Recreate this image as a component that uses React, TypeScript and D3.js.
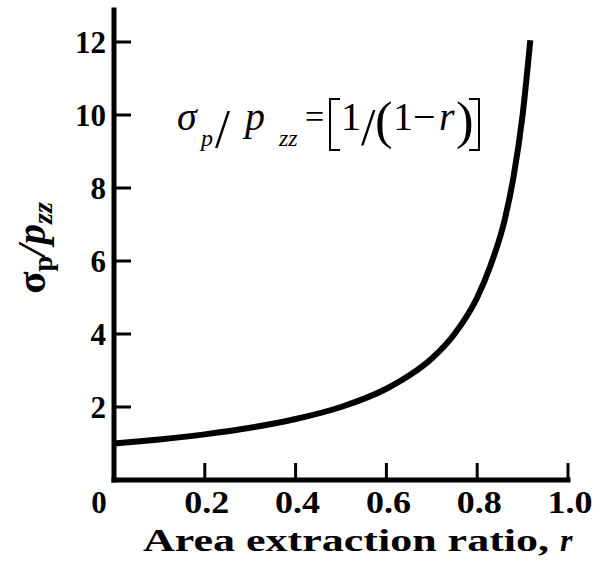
import React from "react";
import * as d3 from "d3";

const rValues = [0, 0.1, 0.2, 0.3, 0.4, 0.5, 0.6, 0.65, 0.7, 0.75, 0.8, 0.83, 0.86, 0.88, 0.9, 0.917];
const ratioValues = [1.0, 1.11, 1.25, 1.43, 1.67, 2.0, 2.5, 2.86, 3.33, 4.0, 5.0, 5.9, 7.1, 8.3, 10.0, 12.05];
const xTicks = [0, 0.2, 0.4, 0.6, 0.8, 1.0];
const xTickLabels = ["0", "0.2", "0.4", "0.6", "0.8", "1.0"];
const yTicks = [2, 4, 6, 8, 10, 12];
const yTickLabels = ["2", "4", "6", "8", "10", "12"];

const W = 605;
const H = 564;
const M = { left: 114, right: 568, top: 42, bottom: 480 };

const SERIF = "Liberation Serif, Times New Roman, serif";

export default function App() {
  const x = d3.scaleLinear().domain([0, 1]).range([M.left, M.right]);
  const y = d3.scaleLinear().domain([0, 12]).range([M.bottom, M.top]);
  const pts = rValues.map((r, i) => [r, ratioValues[i]] as [number, number]);
  const line = d3
    .line<[number, number]>()
    .x((d) => x(d[0]))
    .y((d) => y(d[1]))
    .curve(d3.curveMonotoneX);

  const bold = { fontFamily: SERIF, fontWeight: 700 } as React.CSSProperties;
  const it = { fontFamily: SERIF, fontStyle: "italic" } as React.CSSProperties;
  const rm = { fontFamily: SERIF } as React.CSSProperties;

  return (
    <svg width={W} height={H} style={{ position: "absolute", left: 0, top: 0 }}>
      <rect width={W} height={H} fill="#fff" />
      {/* axes */}
      <line x1={x(0)} x2={x(1)} y1={y(0)} y2={y(0)} stroke="#000" strokeWidth={5} strokeLinecap="square" />
      <line x1={x(0)} x2={x(0)} y1={y(0)} y2={y(12.88)} stroke="#000" strokeWidth={5} strokeLinecap="square" />
      {xTicks.slice(1).map((t) => (
        <line key={"xt" + t} x1={x(t)} x2={x(t)} y1={y(0)} y2={y(0) - 17} stroke="#000" strokeWidth={3} />
      ))}
      {yTicks.map((t) => (
        <line key={"yt" + t} x1={x(0)} x2={x(0) + 17} y1={y(t)} y2={y(t)} stroke="#000" strokeWidth={3} />
      ))}
      {/* tick labels */}
      {yTicks.map((t, i) => (
        <text key={"yl" + t} x={x(0) - 8} y={y(t) + 11} textAnchor="end" fontSize={31} style={bold}>
          {yTickLabels[i]}
        </text>
      ))}
      {xTicks.map((t, i) => (
        <text
          key={"xl" + t}
          x={i === 0 ? x(t) - 15 : x(t) + 2}
          y={513}
          textAnchor="middle"
          fontSize={31}
          style={bold}
          textLength={i === 0 ? undefined : 45}
          lengthAdjust="spacingAndGlyphs"
        >
          {xTickLabels[i]}
        </text>
      ))}
      {/* axis titles */}
      <text x={143} y={551} fontSize={32} style={bold} textLength={406} lengthAdjust="spacingAndGlyphs">
        Area extraction ratio,
      </text>
      <text x={560} y={551} fontSize={32} style={{ ...bold, fontStyle: "italic" }}>
        r
      </text>
      <text
        transform="translate(45,248) rotate(-90)"
        textAnchor="middle"
        fontSize={41}
        style={{ ...bold, fontStyle: "italic" }}
      >
        <tspan style={{ fontStyle: "normal" }}>σ</tspan>
        <tspan fontSize={28} dy={7} style={{ fontStyle: "normal" }}>p</tspan>
        <tspan dy={-7}>/</tspan>
        <tspan>p</tspan>
        <tspan fontSize={28} dy={7}>zz</tspan>
      </text>
      {/* curve */}
      <path d={line(pts) || ""} fill="none" stroke="#000" strokeWidth={6} strokeLinecap="butt" />
      {/* equation */}
      <g>
        <text x={177} y={130} fontSize={40} style={it}>σ</text>
        <text x={201} y={146} fontSize={24} style={it}>p</text>
        <text x={215} y={147} fontSize={54} style={rm}>/</text>
        <text x={245} y={130} fontSize={40} style={it}>p</text>
        <text x={279} y={146} fontSize={24} style={it}>zz</text>
        <text x={305} y={128} fontSize={34} style={rm}>=</text>
        <path d="M340,99 H330 V150 H340" fill="none" stroke="#000" strokeWidth={2} />
        <text x={341} y={130} fontSize={40} style={rm}>1</text>
        <text x={361} y={145} fontSize={52} style={rm}>/</text>
        <text x={375} y={138} fontSize={53} style={rm}>(</text>
        <text x={393} y={130} fontSize={40} style={rm}>1</text>
        <text x={413} y={130} fontSize={40} style={rm}>−</text>
        <text x={439} y={130} fontSize={40} style={it}>r</text>
        <text x={456} y={138} fontSize={53} style={rm}>)</text>
        <path d="M469,99 H479 V150 H469" fill="none" stroke="#000" strokeWidth={2} />
      </g>
    </svg>
  );
}
